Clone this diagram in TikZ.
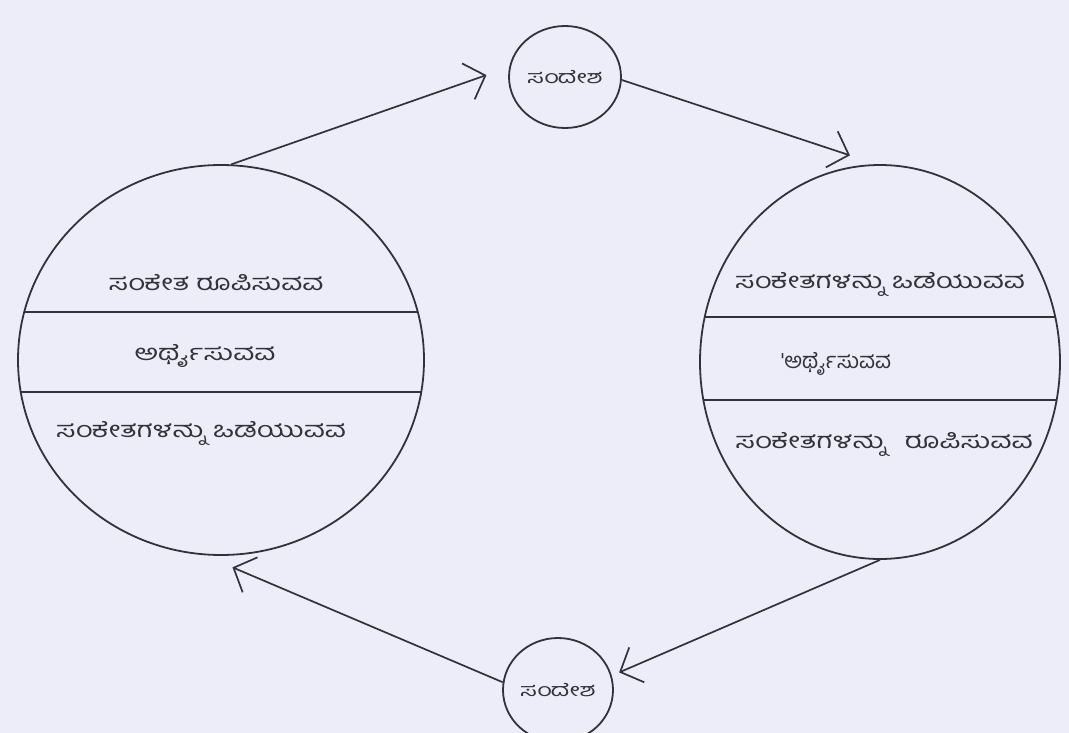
\documentclass[tikz,border=0pt]{standalone}
\usepackage{fontspec}
\newfontfamily\kn[Script=Kannada]{Hind Mysuru}
\usetikzlibrary{shapes.geometric,arrows.meta}
\definecolor{bg}{RGB}{237,237,249}
\definecolor{ink}{RGB}{50,50,58}
\newcommand{\kw}[2][1.32]{\scalebox{#1}[1]{#2}}
\newcommand{\ks}[1]{\scalebox{1.4}[1]{#1}}
\tikzset{
  big/.style={draw=ink, line width=1.8pt, ellipse, inner sep=0pt},
  small/.style={draw=ink, line width=1.8pt, ellipse, inner sep=0pt, minimum width=112pt, minimum height=102pt, font=\kn\fontsize{18}{20}\selectfont, text=ink},
  lbl/.style={font=\kn\fontsize{22}{26}\selectfont, text=ink, inner sep=0pt},
  chord/.style={draw=ink, line width=1.6pt},
  arr/.style={draw=ink, line width=1.7pt, -{Straight Barb[length=18pt,width=38pt,line width=1.7pt]}}
}
\begin{document}
\begin{tikzpicture}[x=1pt,y=-1pt]
\fill[bg] (0,0) rectangle (1069,733);
\useasboundingbox (0,0) rectangle (1069,733);
% big circles
\node[big, minimum width=406pt, minimum height=390pt] (L) at (221,360) {};
\node[big, minimum width=360pt, minimum height=394pt] (R) at (880,362) {};
% small circles
\node[small] (T) at (565,77) {\ks{ಸಂದೇಶ}};
\node[small, minimum width=110pt, minimum height=104pt] (B) at (558,690) {\ks{ಸಂದೇಶ}};
% chords
\begin{scope}
\clip (221,360) ellipse [x radius=203pt, y radius=195pt];
\draw[chord] (0,312) -- (500,312);
\draw[chord] (0,392) -- (500,392);
\end{scope}
\begin{scope}
\clip (880,362) ellipse [x radius=180pt, y radius=197pt];
\draw[chord] (600,317) -- (1069,317);
\draw[chord] (600,400) -- (1069,400);
\end{scope}
% texts left
\node[lbl] (l1) at (216,283) {\kw{ಸಂಕೇತ ರೂಪಿಸುವವ}};
\node[lbl] (l2) at (205,356) {\kw{ಅರ್ಥೈಸುವವ}};
\node[lbl] (l3) at (201,433) {\kw{ಸಂಕೇತಗಳನ್ನು ಒಡೆಯುವವ}};
% texts right
\node[lbl] (r1) at (880,284) {\kw{ಸಂಕೇತಗಳನ್ನು ಒಡೆಯುವವ}};
\node[lbl] (r2) at (836,364) {\kw[1.0]{'ಅರ್ಥೈಸುವವ}};
\node[lbl] (r3) at (884,444) {\kw[1.33]{ಸಂಕೇತಗಳನ್ನು\hspace{14pt}ರೂಪಿಸುವವ}};
% arrows
\draw[arr, shorten >=24pt] (L.87) -- (T.170);
\draw[arr, shorten >=28pt] (T.-3) -- (R.91);
\draw[arr, shorten >=8pt] (R.-90) -- (B.15);
\draw[arr, shorten >=31pt] (B.172) -- (L.-95);
\end{tikzpicture}
\end{document}
